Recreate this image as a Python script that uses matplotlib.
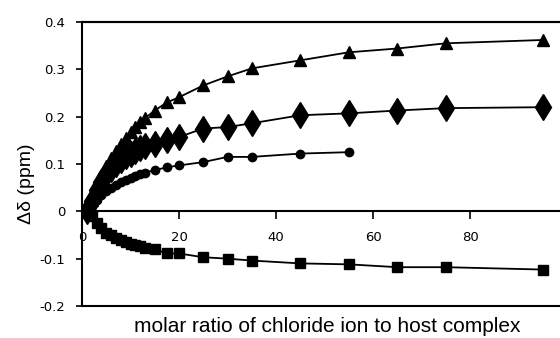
import matplotlib
matplotlib.use('Agg')
import matplotlib.pyplot as plt

# molar ratio (x) for each titration series
x_tri = [1, 2, 3, 4, 5, 6, 7, 8, 9, 10, 11, 12, 13, 15, 17.5, 20, 25, 30, 35, 45, 55, 65, 75, 95]
y_tri = [0.0, 0.025, 0.05, 0.075, 0.095, 0.112, 0.128, 0.143, 0.155, 0.168, 0.178, 0.188, 0.197,
         0.213, 0.23, 0.241, 0.266, 0.285, 0.302, 0.319, 0.336, 0.344, 0.355, 0.362]

x_dia = [1, 2, 3, 4, 5, 6, 7, 8, 9, 10, 11, 12, 13, 15, 17.5, 20, 25, 30, 35, 45, 55, 65, 75, 95]
y_dia = [0.0, 0.022, 0.045, 0.062, 0.078, 0.09, 0.1, 0.108, 0.116, 0.122, 0.128, 0.133, 0.137,
         0.142, 0.15, 0.157, 0.175, 0.178, 0.186, 0.203, 0.207, 0.213, 0.218, 0.22]

x_cir = [1, 2, 3, 4, 5, 6, 7, 8, 9, 10, 11, 12, 13, 15, 17.5, 20, 25, 30, 35, 45, 55]
y_cir = [0.0, 0.012, 0.025, 0.035, 0.043, 0.05, 0.056, 0.061, 0.066, 0.07, 0.074, 0.078, 0.082,
         0.087, 0.093, 0.097, 0.104, 0.115, 0.115, 0.122, 0.125]

x_sq = [1, 2, 3, 4, 5, 6, 7, 8, 9, 10, 11, 12, 13, 15, 17.5, 20, 25, 30, 35, 45, 55, 65, 75, 95]
y_sq = [0.0, -0.01, -0.025, -0.036, -0.045, -0.051, -0.056, -0.061, -0.065, -0.068, -0.071, -0.074,
        -0.077, -0.080, -0.089, -0.089, -0.097, -0.1, -0.104, -0.110, -0.112, -0.118, -0.118, -0.123]

xticks = [0, 20, 40, 60, 80]
yticks = [0.4, 0.3, 0.2, 0.1, 0, -0.1, -0.2]
ytick_labels = ['0.4', '0.3', '0.2', '0.1', '0', '-0.1', '-0.2']

fig = plt.figure(figsize=(5.6, 3.38), dpi=100)
ax = fig.add_axes([82/560, 32/338, 485/560, 284/338])

ax.plot(x_tri, y_tri, 'k-', marker='^', ms=8, lw=1.3)
ax.plot(x_dia, y_dia, 'k-', marker='d', ms=13, lw=1.3)
ax.plot(x_cir, y_cir, 'k-', marker='o', ms=6, lw=1.3)
ax.plot(x_sq, y_sq, 'k-', marker='s', ms=7.5, lw=1.3)

ax.set_xlim(0, 100)
ax.set_ylim(-0.2, 0.4)

# x axis runs through zero, box lines at top and bottom
ax.spines['right'].set_visible(False)
ax.spines['bottom'].set_position(('data', 0))
for s in ['left', 'top', 'bottom']:
    ax.spines[s].set_linewidth(1.5)
ax.axhline(-0.2, color='k', lw=1.5, clip_on=False)
ax.axhline(0.4, color='k', lw=1.5, clip_on=False)

ax.set_xticks(xticks)
ax.set_xticklabels([str(t) for t in xticks])
ax.set_yticks(yticks)
ax.set_yticklabels(ytick_labels)
ax.tick_params(axis='x', direction='out', length=6, width=1.2, pad=8, labelsize=9.5)
ax.tick_params(axis='y', direction='out', length=4, width=1.2, pad=8, labelsize=9.5)

ax.set_xlabel('molar ratio of chloride ion to host complex', fontsize=15,
              family='Liberation Sans')
ax.xaxis.set_label_coords(0.505, -0.04)
ax.set_ylabel('Δδ (ppm)', fontsize=14, family='Liberation Sans')
ax.yaxis.set_label_coords(-0.097, 0.43)

fig.savefig('out.png', dpi=100)
